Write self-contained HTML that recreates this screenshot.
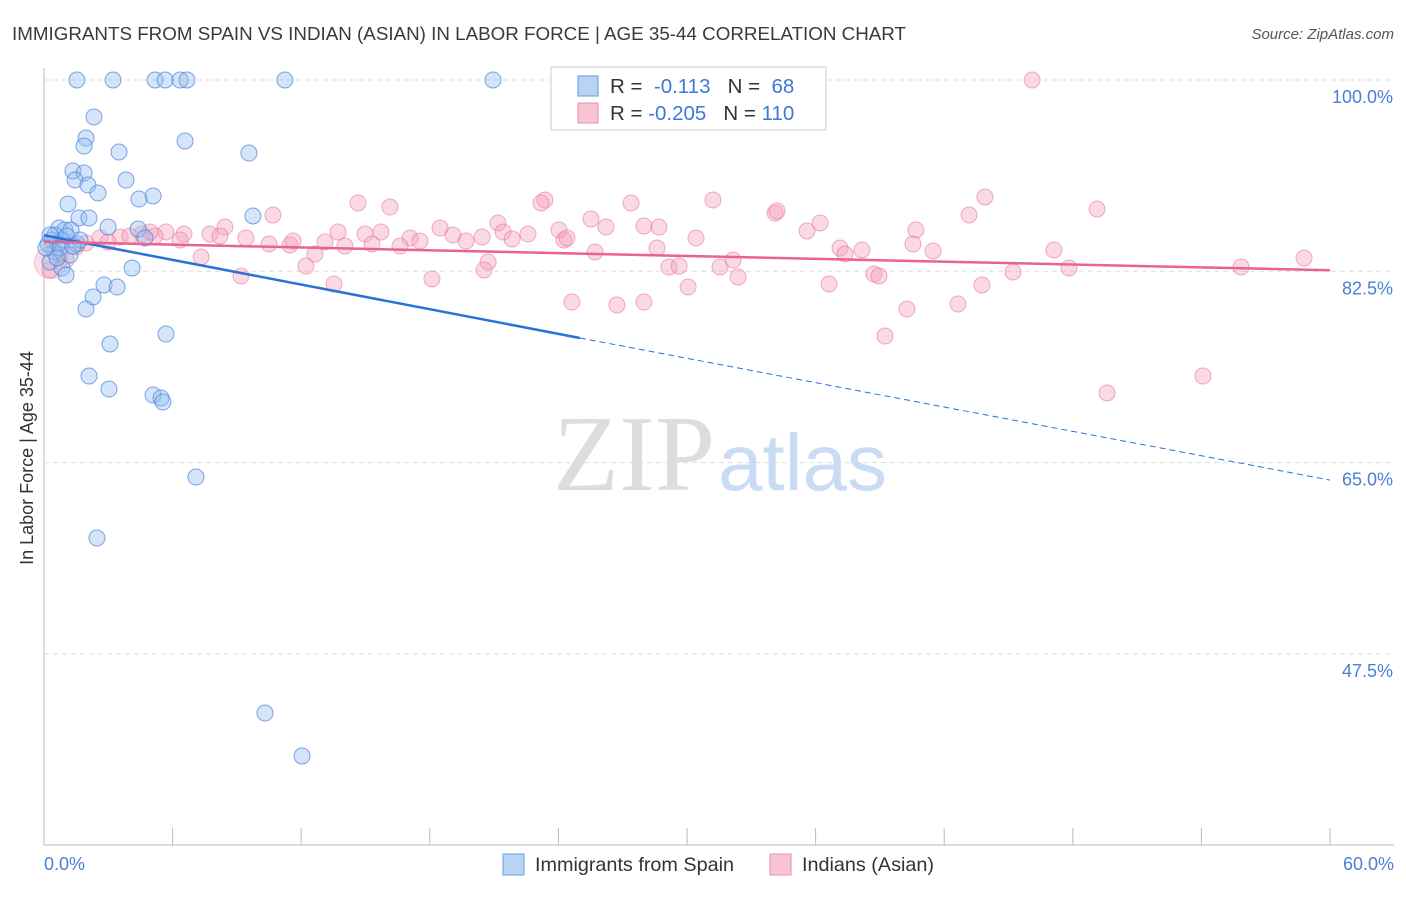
<!DOCTYPE html>
<html><head><meta charset="utf-8"><style>
body{margin:0;background:#fff;font-family:"Liberation Sans",sans-serif}
</style></head><body>
<svg width="1406" height="892" xmlns="http://www.w3.org/2000/svg">
<text x="12" y="40" font-size="18.8" fill="#3a3a3a">IMMIGRANTS FROM SPAIN VS INDIAN (ASIAN) IN LABOR FORCE | AGE 35-44 CORRELATION CHART</text>
<text x="1394" y="39" font-size="15" fill="#555" text-anchor="end" font-style="italic">Source: ZipAtlas.com</text>
<g id="grid"></g>
<text x="553" y="490" font-size="108" fill="#ddd" font-family="Liberation Serif,serif">ZIP</text>
<text x="718" y="490" font-size="80" fill="#c9dcf3">atlas</text>
<g id="pts"></g>
<g id="lines"></g>
<text x="33" y="458" font-size="18" fill="#333" text-anchor="middle" transform="rotate(-90 33 458)">In Labor Force | Age 35-44</text>
<text x="44" y="870" font-size="18" fill="#4a7fd8">0.0%</text>
<text x="1394" y="870" font-size="18" fill="#4a7fd8" text-anchor="end">60.0%</text>
<g>
<rect x="551" y="67" width="275" height="63" fill="#fff" stroke="#ccc"/>
<rect x="578" y="76" width="20" height="20" fill="#b9d3f5" stroke="#6a9ee0"/>
<rect x="578" y="103" width="20" height="20" fill="#f9c4d3" stroke="#ea8fab"/>
<text x="610" y="93" font-size="20.5" fill="#333">R = <tspan fill="#3b7ad8">&#160;-0.113</tspan>&#160;&#160;&#160;N = <tspan fill="#3b7ad8">&#160;68</tspan></text>
<text x="610" y="120" font-size="20.5" fill="#333">R = <tspan fill="#3b7ad8">-0.205</tspan>&#160;&#160;&#160;N = <tspan fill="#3b7ad8">110</tspan></text>
</g>
<g>
<rect x="503" y="854" width="21" height="21" fill="#b9d3f5" stroke="#6a9ee0"/>
<text x="535" y="871" font-size="19.8" fill="#333">Immigrants from Spain</text>
<rect x="770" y="854" width="21" height="21" fill="#f9c4d3" stroke="#ea8fab"/>
<text x="802" y="871" font-size="19.8" fill="#333">Indians (Asian)</text>
</g>
</svg>
<script>
const yTicks=[100,82.5,65,47.5];
const xTicks=[0,6,12,18,24,30,36,42,48,54,60];
const bluePx=[[77,80],[113,80],[155,80],[165,80],[180,80],[187,80],[285,80],[493,80],[94,117],[86,138],[84,146],[119,152],[185,141],[249,153],[73,171],[84,173],[75,180],[88,185],[126,180],[98,193],[153,196],[68,204],[139,199],[79,218],[89,218],[253,216],[59,228],[65,230],[71,230],[108,227],[138,229],[145,238],[52,240],[58,244],[62,240],[77,244],[54,252],[70,255],[50,262],[62,268],[66,275],[132,268],[104,285],[117,287],[93,297],[86,309],[166,334],[110,344],[89,376],[109,389],[153,395],[161,398],[163,402],[196,477],[97,538],[265,713],[302,756],[48,244],[55,235],[46,248],[60,248],[67,236],[80,240],[50,235],[57,258],[73,246]];
const pinkPx=[[1032,80],[985,197],[713,200],[545,200],[541,203],[631,203],[358,203],[390,207],[1097,209],[969,215],[775,213],[777,211],[591,219],[498,223],[273,215],[225,227],[820,223],[440,228],[503,232],[559,230],[644,226],[659,227],[528,234],[381,232],[606,227],[916,230],[807,231],[913,244],[453,235],[365,234],[338,232],[410,238],[290,245],[325,242],[184,234],[166,232],[142,234],[120,237],[100,238],[86,243],[210,234],[246,238],[269,244],[293,241],[345,246],[400,246],[420,241],[466,241],[482,237],[512,239],[564,240],[595,252],[567,238],[657,248],[696,238],[840,248],[862,250],[933,251],[1054,250],[845,254],[1069,268],[1241,267],[1304,258],[488,262],[484,270],[306,266],[241,276],[201,257],[315,254],[669,267],[679,266],[720,267],[733,260],[738,277],[874,274],[879,276],[829,284],[1013,272],[982,285],[432,279],[688,287],[334,284],[572,302],[617,305],[644,302],[958,304],[907,309],[885,336],[1107,393],[1203,376],[50,270],[66,260],[76,247],[108,242],[130,236],[155,236],[180,240],[60,255],[220,236],[372,244],[150,232]];
const blueX=bluePx.map(p=>+((p[0]-44)/1286*60).toFixed(2));
const blueY=bluePx.map(p=>+(100-(p[1]-80)/191.3*17.5).toFixed(2));
const pinkX=pinkPx.map(p=>+((p[0]-44)/1286*60).toFixed(2));
const pinkY=pinkPx.map(p=>+(100-(p[1]-80)/191.3*17.5).toFixed(2));
const blueTrend=[[0,85.8],[25,76.4],[60,63.4]];
const pinkTrend=[[0,85.2],[60,82.6]];
const X=v=>44+v/60*1286, Y=v=>80+(100-v)/17.5*191.3;
const NS='http://www.w3.org/2000/svg';
function mk(t,a,parent){const e=document.createElementNS(NS,t);for(const k in a)e.setAttribute(k,a[k]);parent.appendChild(e);return e;}
const g=document.getElementById('grid');
let ax=mk('line',{x1:44,y1:68,x2:44,y2:845,stroke:'#bbb'},g);


let bx=mk('line',{x1:44,y1:845,x2:1394,y2:845,stroke:'#bbb'},g);


yTicks.forEach(t=>{
 let l=mk('line',{x1:44,y1:Y(t),x2:1394,y2:Y(t),stroke:'#ddd','stroke-dasharray':'5,4'},g);
 
 
 let tx=mk('text',{x:1393,y:Y(t)+23,'font-size':18,fill:'#4a7fd8','text-anchor':'end'},g);
 tx.textContent=t.toFixed(1)+'%';
 
 
});
xTicks.forEach(t=>{
 let l=mk('line',{x1:X(t),y1:828,x2:X(t),y2:845,stroke:'#bbb'},g);
 
 
});
const pg=document.getElementById('pts');
let big=mk('circle',{cx:X(0.3),cy:Y(83.3),r:16,fill:'rgba(244,160,186,0.35)',stroke:'rgba(232,120,155,0.4)'},pg);


pinkX.forEach((x,i)=>{
 let c=mk('circle',{cx:X(x),cy:Y(pinkY[i]),r:8,fill:'rgba(244,160,186,0.4)',stroke:'rgba(232,120,155,0.6)','stroke-width':1},pg);
 
 
});
blueX.forEach((x,i)=>{
 let c=mk('circle',{cx:X(x),cy:Y(blueY[i]),r:8,fill:'rgba(150,190,240,0.4)',stroke:'rgba(70,130,220,0.7)','stroke-width':1},pg);
 
 
});
const lg=document.getElementById('lines');
let b1=mk('line',{x1:X(blueTrend[0][0]),y1:Y(blueTrend[0][1]),x2:X(blueTrend[1][0]),y2:Y(blueTrend[1][1]),stroke:'#2a72d8','stroke-width':2.5},lg);


let b2=mk('line',{x1:X(blueTrend[1][0]),y1:Y(blueTrend[1][1]),x2:X(blueTrend[2][0]),y2:Y(blueTrend[2][1]),stroke:'#2a72d8','stroke-width':1,'stroke-dasharray':'6,4'},lg);


let p1=mk('line',{x1:X(pinkTrend[0][0]),y1:Y(pinkTrend[0][1]),x2:X(pinkTrend[1][0]),y2:Y(pinkTrend[1][1]),stroke:'#e8648f','stroke-width':2.5},lg);


</script>
</body></html>
